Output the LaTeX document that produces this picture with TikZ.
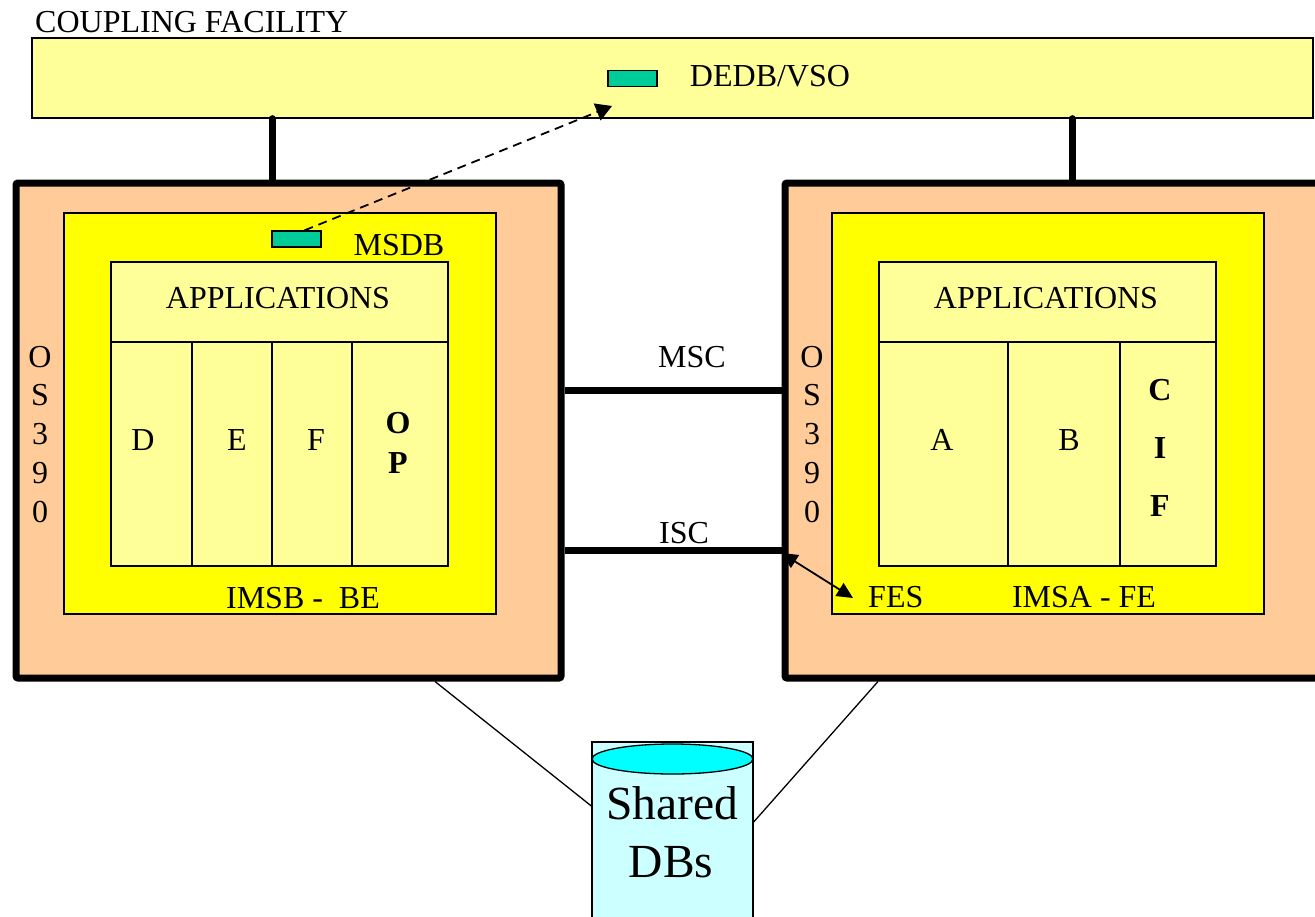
\documentclass[tikz,border=0pt]{standalone}
\usepackage{fontspec}
\setmainfont{Liberation Serif}
\usetikzlibrary{arrows.meta,shapes.geometric}
\definecolor{cfy}{HTML}{FFFF99}
\definecolor{peach}{HTML}{FFCC99}
\definecolor{yel}{HTML}{FFFF00}
\definecolor{grn}{HTML}{00CC99}
\definecolor{cylbody}{HTML}{CCFFFF}
\definecolor{cyltop}{HTML}{00FFFF}
\tikzset{
  thinbox/.style={draw=black, line width=1.3pt, inner sep=0pt},
  sysbox/.style={draw=black, line width=7pt, fill=peach, rounded corners=2pt, inner sep=0pt},
  greenbox/.style={thinbox, fill=grn, minimum width=49pt, minimum height=16pt},
  lbl/.style={anchor=base, inner sep=0pt, font=\fontsize{32}{38}\selectfont},
  blbl/.style={lbl, font=\fontsize{32}{38}\selectfont\bfseries},
  biglbl/.style={anchor=base, inner sep=0pt, font=\fontsize{47.5}{57}\selectfont},
  link/.style={line width=7pt},
  thinline/.style={line width=1.3pt},
  divline/.style={line width=1.3pt},
  dashlink/.style={line width=1.8pt, dash pattern=on 9pt off 6pt, -{Triangle[length=16pt,width=18pt]}},
  fesarrow/.style={line width=1.8pt, {Triangle[length=16pt,width=15pt]}-{Triangle[length=16pt,width=15pt]}},
}
\begin{document}
\begin{tikzpicture}[x=1pt,y=-1pt]
\clip (0,0) rectangle (1315,916);
\fill[white] (0,0) rectangle (1315,916);

% Coupling facility
\node[thinbox, fill=cfy, minimum width=1281pt, minimum height=80pt] (cf) at (672.5,78) {};
\node[lbl, anchor=base west] (cft) at (35,32) {COUPLING FACILITY};
\node[greenbox] (dedb) at (632.5,78.5) {};
\node[lbl] (dedbt) at (770,86) {DEDB/VSO};

% Left system
\node[sysbox, minimum width=545pt, minimum height=495pt] (lsys) at (288.5,430.5) {};
\node[thinbox, fill=yel, minimum width=432pt, minimum height=401pt] (limsb) at (280,413.5) {};
\node[thinbox, fill=cfy, minimum width=337pt, minimum height=304pt] (lapp) at (279.5,414) {};
\draw[divline] (111,342) -- (448,342);
\draw[divline] (192,342) -- (192,566);
\draw[divline] (272,342) -- (272,566);
\draw[divline] (352,342) -- (352,566);
\node[lbl] (lappt) at (278,308.5) {APPLICATIONS};
\node[lbl] (ld) at (143,450) {D};
\node[lbl] (le) at (237,450) {E};
\node[lbl] (lf) at (316,450) {F};
\node[blbl] (lo) at (398,433) {O};
\node[blbl] (lp) at (398,473) {P};
\node[greenbox] (msdb) at (296.5,239) {};
\node[lbl] (msdbt) at (399,255) {MSDB};
\node[lbl] (los1) at (40,367) {O};
\node[lbl] (los2) at (40,405.75) {S};
\node[lbl] (los3) at (40,444.5) {3};
\node[lbl] (los4) at (40,483.25) {9};
\node[lbl] (los5) at (40,522) {0};
\node[lbl] (imsbt) at (303,608) {IMSB -\ \ BE};

% Right system
\node[sysbox, minimum width=555pt, minimum height=495pt] (rsys) at (1062.5,430.5) {};
\node[thinbox, fill=yel, minimum width=432pt, minimum height=401pt] (rimsa) at (1048,413.5) {};
\node[thinbox, fill=cfy, minimum width=337pt, minimum height=304pt] (rapp) at (1047.5,414) {};
\draw[divline] (879,342) -- (1216,342);
\draw[divline] (1008,342) -- (1008,566);
\draw[divline] (1120,342) -- (1120,566);
\node[lbl] (rappt) at (1046,308.5) {APPLICATIONS};
\node[lbl] (ra) at (942,450) {A};
\node[lbl] (rb) at (1069,450) {B};
\node[blbl] (rc) at (1160,400) {C};
\node[blbl] (ri) at (1160,458) {I};
\node[blbl] (rf) at (1160,516) {F};
\node[lbl] (ros1) at (812,367) {O};
\node[lbl] (ros2) at (812,405.75) {S};
\node[lbl] (ros3) at (812,444.5) {3};
\node[lbl] (ros4) at (812,483.25) {9};
\node[lbl] (ros5) at (812,522) {0};
\node[lbl, anchor=base west] (fes) at (868,607) {FES};
\node[lbl] (imsat) at (1084,607) {IMSA - FE};

% Shared DBs cylinder
\node[thinbox, fill=cylbody, minimum width=161pt, minimum height=188pt] (cyl) at (672.5,836) {};
\node[thinbox, ellipse, fill=cyltop, minimum width=161pt, minimum height=30pt] (cyltopn) at (672.5,759) {};
\node[biglbl] (sh1) at (672,819) {Shared};
\node[biglbl] (sh2) at (671,877) {DBs};

% coordinates
\coordinate (cl) at (272,0);
\coordinate (cr) at (1072,0);
\coordinate (mscy) at (0,390);
\coordinate (iscy) at (0,550);
\coordinate (dend) at (612,106);
\coordinate (fesend) at (853,598);
\coordinate (lcx) at (435,0);
\coordinate (rcx) at (878,0);
\coordinate (lcy) at (0,806);
\coordinate (rcy) at (0,822);

% connectors
\draw[link, line cap=round] (cf.south -| cl) -- (lsys.north -| cl);
\draw[link, line cap=round] (cf.south -| cr) -- (rsys.north -| cr);
\draw[link] (lsys.east |- mscy) -- (rsys.west |- mscy);
\draw[link] (lsys.east |- iscy) -- (rsys.west |- iscy);
\node[lbl] (msct) at (692,367) {MSC};
\node[lbl] (isct) at (684,543) {ISC};
\draw[dashlink] ([xshift=8pt]msdb.north) -- (dend);
\draw[fesarrow] ([yshift=-3pt]rsys.west |- iscy) -- (fesend);
\draw[thinline] (lsys.south -| lcx) -- (cyl.west |- lcy);
\draw[thinline] (rsys.south -| rcx) -- (cyl.east |- rcy);
\end{tikzpicture}
\end{document}
